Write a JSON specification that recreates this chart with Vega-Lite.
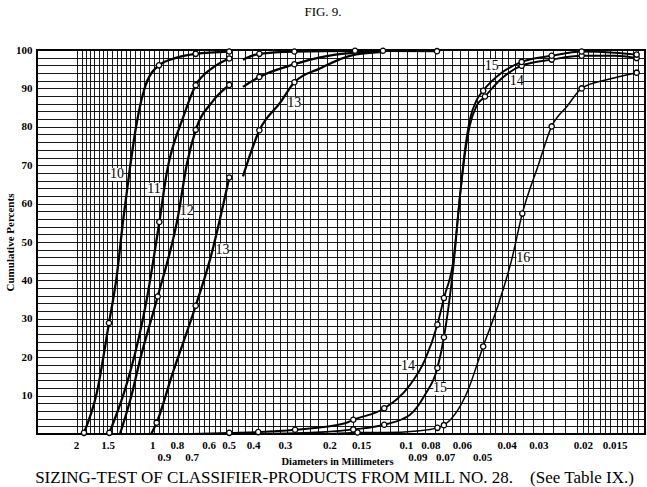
{
  "$schema": "https://vega.github.io/schema/vega-lite/v6.json",
  "width": 608,
  "height": 384,
  "autosize": {"type": "none"},
  "padding": {"left": 37, "top": 50, "right": 2, "bottom": 53},
  "background": "white",
  "title": {"text": "FIG. 9.", "frame": "group", "anchor": "middle", "dx": -18, "offset": 15, "baseline": "alphabetic", "font": "Liberation Serif", "fontSize": 13, "fontWeight": "normal", "color": "#000"},
  "config": {"view": {"stroke": "#000", "strokeWidth": 2}, "font": "Liberation Serif"},
  "datasets": {
    "curves": [
      {"s":"10","d":1.86,"p":0.3,"m":1},{"s":"10","d":1.657,"p":10.6,"m":0},{"s":"10","d":1.482,"p":28.9,"m":1},{"s":"10","d":1.382,"p":41,"m":0},{"s":"10","d":1.301,"p":56,"m":0},{"s":"10","d":1.224,"p":69.5,"m":0},{"s":"10","d":1.152,"p":81,"m":0},{"s":"10","d":1.069,"p":90.3,"m":0},{"s":"10","d":0.941,"p":96.0,"m":1},{"s":"10","d":0.801,"p":98.0,"m":0},{"s":"10","d":0.674,"p":99.0,"m":1},{"s":"10","d":0.497,"p":99.6,"m":1},
      {"s":"11a","d":1.477,"p":0.3,"m":1},{"s":"11a","d":1.301,"p":10.2,"m":0},{"s":"11a","d":1.224,"p":16,"m":0},{"s":"11a","d":1.052,"p":35,"m":0},{"s":"11a","d":0.938,"p":55.2,"m":1},{"s":"11a","d":0.877,"p":68,"m":0},{"s":"11a","d":0.755,"p":82.5,"m":0},{"s":"11a","d":0.674,"p":90.8,"m":1},{"s":"11a","d":0.58,"p":95.3,"m":0},{"s":"11a","d":0.497,"p":97.8,"m":1},
      {"s":"11b","d":0.4387,"p":97.5,"m":0},{"s":"11b","d":0.378,"p":99.0,"m":1},{"s":"11b","d":0.275,"p":99.6,"m":1},{"s":"11b","d":0.1586,"p":99.8,"m":1},{"s":"11b","d":0.123,"p":99.8,"m":1},{"s":"11b","d":0.0753,"p":99.7,"m":1},
      {"s":"12a","d":1.341,"p":0,"m":0},{"s":"12a","d":1.206,"p":10.2,"m":0},{"s":"12a","d":1.118,"p":19.3,"m":0},{"s":"12a","d":0.952,"p":35.8,"m":1},{"s":"12a","d":0.79,"p":57,"m":0},{"s":"12a","d":0.732,"p":70,"m":0},{"s":"12a","d":0.674,"p":79.2,"m":1},{"s":"12a","d":0.58,"p":86.5,"m":0},{"s":"12a","d":0.497,"p":90.9,"m":1},
      {"s":"12b","d":0.4387,"p":90.4,"m":0},{"s":"12b","d":0.378,"p":93.0,"m":1},{"s":"12b","d":0.275,"p":96.3,"m":1},{"s":"12b","d":0.2175,"p":98.1,"m":0},{"s":"12b","d":0.166,"p":99.2,"m":0},{"s":"12b","d":0.123,"p":99.6,"m":0},
      {"s":"13a","d":1.01,"p":0,"m":0},{"s":"13a","d":0.961,"p":2.95,"m":1},{"s":"13a","d":0.839,"p":15,"m":0},{"s":"13a","d":0.674,"p":33.4,"m":1},{"s":"13a","d":0.592,"p":45.4,"m":0},{"s":"13a","d":0.497,"p":66.8,"m":1},
      {"s":"13b","d":0.4387,"p":67.1,"m":0},{"s":"13b","d":0.378,"p":79.1,"m":1},{"s":"13b","d":0.313,"p":86.3,"m":0},{"s":"13b","d":0.275,"p":91.6,"m":1},{"s":"13b","d":0.218,"p":95.2,"m":0},{"s":"13b","d":0.166,"p":98.5,"m":0},{"s":"13b","d":0.123,"p":99.5,"m":0},
      {"s":"14","d":0.699,"p":0,"m":0},{"s":"14","d":0.497,"p":0.3,"m":1},{"s":"14","d":0.382,"p":0.5,"m":1},{"s":"14","d":0.2733,"p":1.1,"m":1},{"s":"14","d":0.1737,"p":2.8,"m":0},{"s":"14","d":0.1611,"p":3.7,"m":1},{"s":"14","d":0.1216,"p":6.7,"m":1},{"s":"14","d":0.0962,"p":12.8,"m":0},{"s":"14","d":0.084,"p":19.3,"m":0},{"s":"14","d":0.075,"p":28.5,"m":1},{"s":"14","d":0.0707,"p":35.4,"m":1},{"s":"14","d":0.0648,"p":45.5,"m":0},{"s":"14","d":0.0611,"p":62,"m":0},{"s":"14","d":0.0584,"p":73,"m":0},{"s":"14","d":0.0558,"p":80.5,"m":0},{"s":"14","d":0.0525,"p":85.5,"m":0},{"s":"14","d":0.0487,"p":87.9,"m":1},{"s":"14","d":0.042,"p":92.5,"m":0},{"s":"14","d":0.0349,"p":95.9,"m":1},{"s":"14","d":0.02657,"p":97.5,"m":1},{"s":"14","d":0.02023,"p":98.5,"m":1},{"s":"14","d":0.015,"p":98.5,"m":0},{"s":"14","d":0.01228,"p":97.9,"m":1},
      {"s":"15","d":0.497,"p":0,"m":0},{"s":"15","d":0.2733,"p":0.2,"m":0},{"s":"15","d":0.1611,"p":1.2,"m":1},{"s":"15","d":0.1216,"p":2.4,"m":1},{"s":"15","d":0.0962,"p":5,"m":0},{"s":"15","d":0.084,"p":10.2,"m":0},{"s":"15","d":0.075,"p":17.2,"m":1},{"s":"15","d":0.0707,"p":25.2,"m":1},{"s":"15","d":0.0648,"p":44,"m":0},{"s":"15","d":0.0611,"p":62,"m":0},{"s":"15","d":0.0584,"p":74,"m":0},{"s":"15","d":0.0558,"p":82,"m":0},{"s":"15","d":0.0525,"p":87,"m":0},{"s":"15","d":0.0495,"p":89.4,"m":1},{"s":"15","d":0.042,"p":94,"m":0},{"s":"15","d":0.0349,"p":96.9,"m":1},{"s":"15","d":0.02657,"p":98.5,"m":1},{"s":"15","d":0.02023,"p":99.6,"m":1},{"s":"15","d":0.015,"p":99.3,"m":0},{"s":"15","d":0.01228,"p":98.8,"m":1},
      {"s":"16","d":0.2,"p":0,"m":0},{"s":"16","d":0.155,"p":0.4,"m":1},{"s":"16","d":0.1216,"p":0.4,"m":0},{"s":"16","d":0.09,"p":0.8,"m":0},{"s":"16","d":0.075,"p":1.6,"m":1},{"s":"16","d":0.0707,"p":2.3,"m":1},{"s":"16","d":0.0575,"p":10.6,"m":0},{"s":"16","d":0.0495,"p":22.8,"m":1},{"s":"16","d":0.0438,"p":32.4,"m":0},{"s":"16","d":0.0382,"p":45.4,"m":0},{"s":"16","d":0.0347,"p":57.4,"m":1},{"s":"16","d":0.03,"p":70,"m":0},{"s":"16","d":0.02657,"p":80.1,"m":1},{"s":"16","d":0.023,"p":85.5,"m":0},{"s":"16","d":0.02023,"p":90.0,"m":1},{"s":"16","d":0.016,"p":92.3,"m":0},{"s":"16","d":0.01228,"p":94.1,"m":1}
    ],
    "labels": [
      {"d":1.378,"p":67.6,"t":"10"},{"d":0.985,"p":63.7,"t":"11"},{"d":0.732,"p":58.0,"t":"12"},{"d":0.528,"p":47.9,"t":"13"},{"d":0.2754,"p":86.1,"t":"13"},{"d":0.0979,"p":17.6,"t":"14"},{"d":0.0733,"p":11.9,"t":"15"},{"d":0.0344,"p":45.9,"t":"16"},{"d":0.0458,"p":95.9,"t":"15"},{"d":0.0365,"p":92.0,"t":"14"}
    ]
  },
  "resolve": {"axis": {"x": "independent", "y": "independent"}},
  "layer": [
    {
      "data": {"name": "labels"},
      "mark": {"type": "point", "shape": "square", "filled": true, "fill": "white", "opacity": 1, "size": 170, "strokeWidth": 0},
      "encoding": {
        "x": {"field": "d", "type": "quantitative",
          "scale": {"type": "log", "domain": [0.01138, 2.85], "reverse": true, "nice": false},
          "axis": {"orient": "bottom", "values": [1.976,1.899,1.826,1.761,1.693,1.627,1.561,1.504,1.442,1.382,1.329,1.273,1.224,1.17,1.118,1.075,1.03,0.985,0.941,0.905,0.865,0.826,0.79,0.755,0.721,0.689,0.653,0.625,0.596,0.566,0.541,0.512,0.486,0.458,0.431,0.405,0.382,0.359,0.335,0.313,0.2935,0.2736,0.255,0.2387,0.2214,0.2051,0.1873,0.1737,0.1611,0.1471,0.1363,0.1264,0.1154,0.107,0.0992,0.0906,0.084,0.0767,0.0711,0.0659,0.0611,0.0567,0.0525,0.0495,0.0465,0.0445,0.0418,0.0394,0.0371,0.0344,0.0314,0.0287,0.0262,0.0235,0.0212,0.02,0.0191,0.0182,0.01714,0.01638,0.01565,0.01472,0.01407,0.01344,0.01267,0.0121],
            "grid": true, "gridColor": "#000", "gridWidth": 1, "gridOpacity": 0.9, "labels": false, "ticks": false, "domain": false, "title": null}},
        "y": {"field": "p", "type": "quantitative",
          "scale": {"domain": [0, 100], "nice": false},
          "axis": {"orient": "left", "values": [0,2,4,6,8,10,12,14,16,18,20,22,24,26,28,30,32,34,36,38,40,42,44,46,48,50,52,54,56,58,60,62,64,66,68,70,72,74,76,78,80,82,84,86,88,90,92,94,96,98,100],
            "grid": true, "gridColor": "#000", "gridWidth": 1, "gridOpacity": 0.9, "ticks": false, "domain": false,
            "labelExpr": "(datum.value % 10 == 0 && datum.value > 0) ? ('' + datum.value) : ''",
            "labelFont": "Liberation Serif", "labelFontWeight": "bold", "labelFontSize": 11, "labelColor": "#000", "labelPadding": 5, "labelOverlap": false, "labelFlush": false,
            "title": "Cumulative Percents", "titleFont": "Liberation Serif", "titleFontSize": 11, "titleFontWeight": "bold", "titleColor": "#000",
            "titleX": -33, "titleY": 192, "titleAngle": -90, "titleBaseline": "top", "titleAlign": "center"}}
      }
    },
    {
      "data": {"name": "curves"},
      "transform": [{"filter": "datum.s != '14' && datum.s != '15' && datum.s != '16'"}],
      "mark": {"type": "line", "interpolate": "monotone", "stroke": "#000", "strokeWidth": 2.3},
      "encoding": {
        "x": {"field": "d", "type": "quantitative", "axis": null},
        "y": {"field": "p", "type": "quantitative", "axis": null},
        "detail": {"field": "s"}
      }
    },
    {
      "data": {"name": "curves"},
      "transform": [{"filter": "datum.s == '14' || datum.s == '15'"}],
      "mark": {"type": "line", "interpolate": "monotone", "stroke": "#000", "strokeWidth": 1.9},
      "encoding": {
        "x": {"field": "d", "type": "quantitative", "axis": null},
        "y": {"field": "p", "type": "quantitative", "axis": null},
        "detail": {"field": "s"}
      }
    },
    {
      "data": {"name": "curves"},
      "transform": [{"filter": "datum.s == '16'"}],
      "mark": {"type": "line", "interpolate": "monotone", "stroke": "#000", "strokeWidth": 1.5},
      "encoding": {
        "x": {"field": "d", "type": "quantitative", "axis": null},
        "y": {"field": "p", "type": "quantitative", "axis": null},
        "detail": {"field": "s"}
      }
    },
    {
      "data": {"name": "curves"},
      "transform": [{"filter": "datum.m == 1"}],
      "mark": {"type": "point", "filled": true, "fill": "white", "stroke": "#000", "strokeWidth": 1.3, "size": 28, "opacity": 1},
      "encoding": {
        "x": {"field": "d", "type": "quantitative",
          "axis": {"orient": "bottom", "values": [2,1.5,1,0.9,0.8,0.7,0.6,0.5,0.4,0.3,0.2,0.15,0.1,0.09,0.08,0.07,0.06,0.05,0.04,0.03,0.02,0.015],
            "grid": false, "ticks": false, "domain": false,
            "labelExpr": "'' + datum.value",
            "labelFont": "Liberation Serif", "labelFontSize": 11, "labelFontWeight": "bold", "labelColor": "#000", "labelBaseline": "top",
            "labelPadding": {"condition": {"test": "indexof([0.9,0.7,0.09,0.07,0.05], datum.value) >= 0", "value": 17}, "value": 5},
            "labelOverlap": false, "labelFlush": false,
            "title": "Diameters in Millimeters", "titleFont": "Liberation Serif", "titleFontSize": 10.5, "titleFontWeight": "bold", "titleColor": "#000",
            "titleX": 300, "titleY": 30, "titleBaseline": "alphabetic", "titleAlign": "center"}},
        "y": {"field": "p", "type": "quantitative", "axis": null}
      }
    },
    {
      "data": {"name": "labels"},
      "mark": {"type": "text", "font": "Liberation Serif", "fontSize": 14, "fill": "#000", "baseline": "middle", "align": "center"},
      "encoding": {
        "x": {"field": "d", "type": "quantitative",
          "axis": {"orient": "bottom", "labels": false, "ticks": false, "domain": false, "grid": false,
            "title": "SIZING-TEST OF CLASSIFIER-PRODUCTS FROM MILL NO. 28.\u2002\u2002(See Table IX.)",
            "titleFont": "Liberation Serif", "titleFontSize": 17, "titleFontWeight": "normal", "titleColor": "#000",
            "titleX": 297, "titleY": 48, "titleBaseline": "alphabetic", "titleAlign": "center"}},
        "y": {"field": "p", "type": "quantitative", "axis": null},
        "text": {"field": "t"}
      }
    }
  ]
}
